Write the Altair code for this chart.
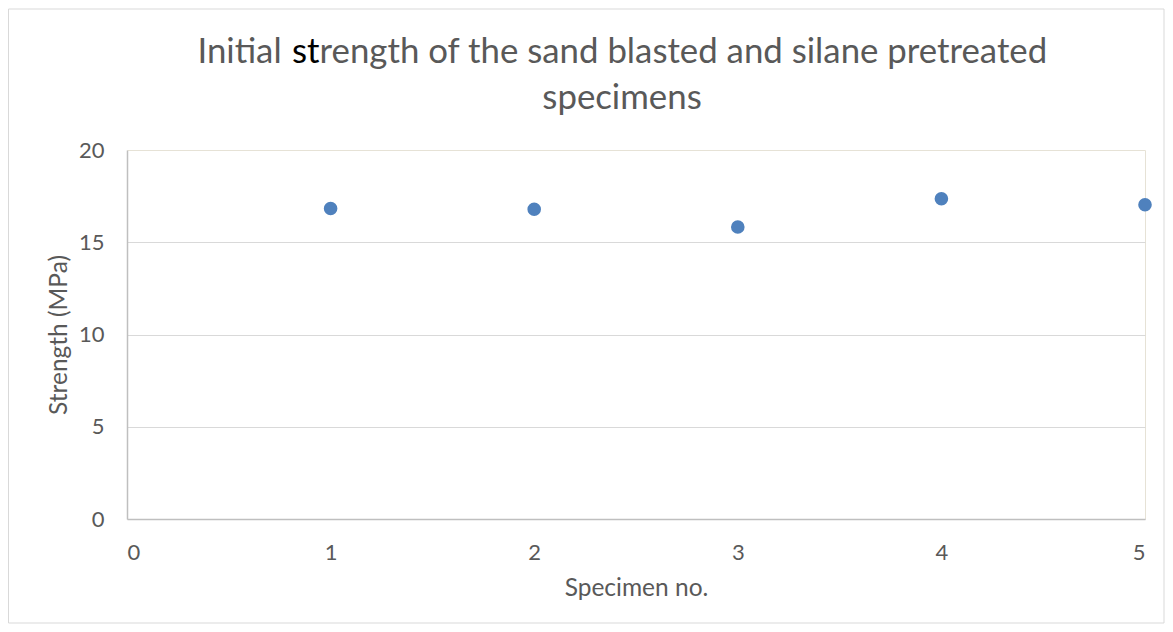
import altair as alt
import pandas as pd

specimen = [1, 2, 3, 4, 5]
strength = [16.83, 16.79, 15.83, 17.36, 17.03]
x_ticks = [0, 1, 2, 3, 4, 5]
y_ticks = [0, 5, 10, 15, 20]
title_a = "Initial"
title_st = "st"
title_b = "rength of the sand blasted and silane pretreated"
title_c = "specimens"

df = pd.DataFrame({"Specimen": specimen, "Strength": strength})
one = pd.DataFrame({"a": [0]})

W, H = 1018, 369
FONT = "Lato"
GRAY = "#595959"
BEIGE = "#e6e2d6"
TFS = 34.8
E = 192.6

points = alt.Chart(df).mark_circle(size=185, color="#4f81bd", opacity=1).encode(
    x=alt.X("Specimen:Q", scale=alt.Scale(domain=[0, 5], nice=False),
            axis=alt.Axis(title="Specimen no.", values=x_ticks, format="d",
                          grid=True,
                          gridColor={"condition": {"test": "datum.value === 5", "value": BEIGE}, "value": "transparent"},
                          domainColor="#bfbfbf", domainWidth=1.5, ticks=False,
                          labelPadding=23, labelFontSize=22, labelColor=GRAY, labelFont=FONT,
                          titleFont=FONT, titleFontSize=24.5, titleColor=GRAY, titleFontWeight="normal",
                          titleX=W / 2, titleY=69, titleBaseline="middle")),
    y=alt.Y("Strength:Q", scale=alt.Scale(domain=[0, 20], nice=False),
            axis=alt.Axis(title="Strength (MPa)", values=y_ticks, format="d",
                          grid=True,
                          gridColor={"condition": {"test": "datum.value === 20", "value": BEIGE}, "value": "#d9d9d9"},
                          domainColor="#bfbfbf", domainWidth=1.5, ticks=False,
                          labelPadding=23, labelFontSize=22, labelColor=GRAY, labelFont=FONT,
                          titleFont=FONT, titleFontSize=24.5, titleColor=GRAY, titleFontWeight="normal",
                          titleX=-67.5, titleY=H / 2, titleAngle=-90, titleBaseline="middle")),
)

border = alt.Chart(one).mark_rect(filled=False, stroke="#d9d9d9", strokeWidth=1).encode(
    x=alt.value(-118.5), x2=alt.value(1037), y=alt.value(-141), y2=alt.value(473))

t1 = alt.Chart(one).mark_text(text=title_a, align="right", baseline="alphabetic", font=FONT,
                              fontSize=TFS, color=GRAY).encode(x=alt.value(E - 38), y=alt.value(-86.7))
t2 = alt.Chart(one).mark_text(text=title_st, align="right", baseline="alphabetic", font=FONT,
                              fontSize=TFS, color="#000000").encode(x=alt.value(E), y=alt.value(-86.7))
t3 = alt.Chart(one).mark_text(text=title_b, align="left", baseline="alphabetic", font=FONT,
                              fontSize=TFS, color=GRAY).encode(x=alt.value(E), y=alt.value(-86.7))
t4 = alt.Chart(one).mark_text(text=title_c, align="center", baseline="alphabetic", font=FONT,
                              fontSize=TFS, color=GRAY).encode(x=alt.value(495), y=alt.value(-41))

chart = alt.layer(border, points, t1, t2, t3, t4).properties(
    width=W, height=H,
    autosize=alt.AutoSizeParams(type="none"),
    padding={"left": 119, "top": 142, "right": 20, "bottom": 105},
).configure_view(stroke=None)

chart.save("out.html", embed_options={"renderer": "svg", "actions": False})
